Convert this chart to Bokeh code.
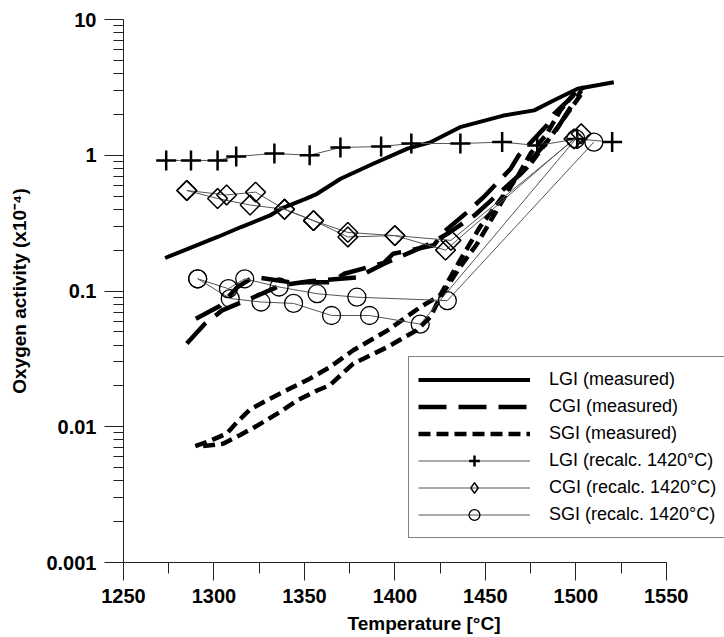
import numpy as np
from bokeh.plotting import figure
from bokeh.models import (Legend, LegendItem, SingleIntervalTicker, FixedTicker,
                          CustomJSTickFormatter, Range1d)
from bokeh.embed import file_html
from bokeh.resources import INLINE

# ---------------- data ----------------
# LGI measured (solid)
lgi_meas_T = [1273, 1302, 1315, 1331, 1337, 1351, 1357, 1370, 1388, 1407, 1420, 1436, 1460, 1477, 1488, 1501, 1521]
lgi_meas_v = [0.175, 0.25, 0.296, 0.36, 0.404, 0.479, 0.52, 0.671, 0.866, 1.12, 1.25, 1.61, 1.96, 2.14, 2.54, 3.09, 3.45]

# CGI measured (long dash) - two runs
cgi_meas1_T = [1290, 1303.5, 1313, 1322, 1342, 1365, 1372, 1394, 1399, 1421.5, 1427, 1440, 1449, 1464, 1468.5, 1484, 1488, 1502.6]
cgi_meas1_v = [0.0625, 0.078, 0.107, 0.127, 0.116, 0.116, 0.134, 0.161, 0.188, 0.217, 0.272, 0.381, 0.491, 0.796, 1.0, 1.66, 2.02, 3.09]
cgi_meas2_T = [1285, 1295, 1304.5, 1322, 1337, 1353, 1379, 1394, 1419.6, 1429, 1444, 1452, 1468, 1473, 1488, 1503]
cgi_meas2_v = [0.041, 0.0574, 0.072, 0.090, 0.110, 0.118, 0.126, 0.159, 0.223, 0.264, 0.36, 0.45, 0.70, 0.85, 1.45, 3.0]

# SGI measured (short dash) - two runs
sgi_meas1_T = [1289.7, 1298, 1307, 1313.6, 1320, 1331, 1342, 1353, 1364, 1377, 1396, 1414, 1425, 1436, 1447, 1458, 1467.6, 1475, 1484, 1491.5, 1499, 1504.4]
sgi_meas1_v = [0.0072, 0.0079, 0.0089, 0.0111, 0.0134, 0.0161, 0.0191, 0.0226, 0.0275, 0.0366, 0.0513, 0.076, 0.093, 0.168, 0.296, 0.465, 0.69, 1.03, 1.44, 2.14, 2.84, 3.17]
sgi_meas2_T = [1294, 1305, 1314.5, 1324, 1335, 1346, 1357, 1364, 1377, 1396, 1412, 1419.6, 1425, 1436, 1445.5, 1466, 1475, 1490, 1504.4]
sgi_meas2_v = [0.0072, 0.0075, 0.0087, 0.0102, 0.0125, 0.0156, 0.0185, 0.0202, 0.0292, 0.0387, 0.0513, 0.0643, 0.090, 0.150, 0.223, 0.652, 0.865, 1.61, 3.0]

# LGI recalculated at 1420 C (plus markers)
lgi_rec_T = [1273.6, 1287.3, 1302, 1312.3, 1333.4, 1352.9, 1369.9, 1392.4, 1409.1, 1436.2, 1459.3, 1478.7, 1500.8, 1520.1]
lgi_rec_v = [0.916, 0.916, 0.916, 0.98, 1.03, 1.0, 1.14, 1.16, 1.22, 1.22, 1.25, 1.18, 1.32, 1.25]

# CGI recalculated at 1420 C (diamonds) - two runs
cgi_rec1_T = [1285, 1307, 1323, 1339, 1355, 1374, 1400, 1431, 1503]
cgi_rec1_v = [0.55, 0.51, 0.535, 0.40, 0.33, 0.27, 0.256, 0.236, 1.44]
cgi_rec2_T = [1285, 1302, 1320, 1339, 1355, 1374, 1400, 1428, 1499]
cgi_rec2_v = [0.55, 0.48, 0.43, 0.40, 0.33, 0.25, 0.256, 0.20, 1.32]

# SGI recalculated at 1420 C (circles) - two runs
sgi_rec1_T = [1291, 1308, 1317, 1336, 1357, 1379, 1429, 1510]
sgi_rec1_v = [0.123, 0.104, 0.123, 0.107, 0.0955, 0.090, 0.085, 1.25]
sgi_rec2_T = [1291, 1309, 1326, 1344, 1365, 1386, 1414, 1500]
sgi_rec2_v = [0.123, 0.088, 0.083, 0.081, 0.066, 0.066, 0.057, 1.32]

x_axis_bounds = (1250, 1550)
y_ticks = [0.001, 0.01, 0.1, 1, 10]
y_tick_labels = ["0.001", "0.01", "0.1", "1", "10"]
y_minor_ticks = [m * 10.0 ** e for e in range(-3, 1) for m in range(2, 10)]

legend_labels = ["LGI (measured)", "CGI (measured)", "SGI (measured)",
                 "LGI (recalc. 1420\u00b0C)", "CGI (recalc. 1420\u00b0C)", "SGI (recalc. 1420\u00b0C)"]

FONT = "Liberation Sans"

# ---------------- figure ----------------
# the frame runs a little past 1550 so that the legend (which overhangs the axis end) is not clipped;
# the x axis itself is bounded to 1250-1550
p = figure(width=724, height=637, x_range=Range1d(1250, 1582.2), y_range=Range1d(0.001, 10),
           y_axis_type="log", output_backend="svg", toolbar_location=None,
           min_border_left=123, min_border_right=0, min_border_top=19, min_border_bottom=75)
p.outline_line_color = None
p.xgrid.visible = False
p.ygrid.visible = False
p.background_fill_color = "white"

# axes
p.xaxis.ticker = SingleIntervalTicker(interval=50, num_minor_ticks=2)
p.xaxis.bounds = x_axis_bounds
p.yaxis.ticker = FixedTicker(ticks=y_ticks, minor_ticks=y_minor_ticks)
p.yaxis.formatter = CustomJSTickFormatter(args=dict(vals=y_ticks, labs=y_tick_labels), code="""
const i = vals.findIndex(v => Math.abs(Math.log10(v) - Math.log10(tick)) < 1e-6);
return i >= 0 ? labs[i] : "";
""")
for ax in (p.xaxis[0], p.yaxis[0]):
    ax.axis_line_color = "#222222"
    ax.major_tick_line_color = "#222222"
    ax.minor_tick_line_color = "#222222"
    ax.major_tick_in = 0
    ax.minor_tick_in = 0
    ax.major_label_text_font = FONT
    ax.major_label_text_font_style = "bold"
    ax.major_label_text_font_size = "20px"
    ax.major_label_text_color = "black"
    ax.axis_label_text_font = FONT
    ax.axis_label_text_font_style = "bold"
    ax.axis_label_text_font_size = "19px"
    ax.axis_label_text_color = "black"
p.xaxis.major_tick_out = 18
p.xaxis.minor_tick_out = 11
p.yaxis.major_tick_out = 19
p.yaxis.minor_tick_out = 10
p.xaxis.major_label_standoff = 8
p.yaxis.major_label_standoff = 8
p.xaxis.axis_label_standoff = 7
p.yaxis.axis_label_standoff = 13
p.xaxis.axis_label = "Temperature [\u00b0C]"
p.yaxis.axis_label = "Oxygen activity (x10\u207b\u2074)"

# measured curves
l_lgi = p.line(lgi_meas_T, lgi_meas_v, line_width=4, line_color="black")
l_cgi = p.line(cgi_meas1_T, cgi_meas1_v, line_width=4.5, line_color="black", line_dash="28 12")
p.line(cgi_meas2_T, cgi_meas2_v, line_width=4.5, line_color="black", line_dash="28 12")
l_sgi = p.line(sgi_meas1_T, sgi_meas1_v, line_width=4.5, line_color="black", line_dash="12 6")
p.line(sgi_meas2_T, sgi_meas2_v, line_width=4.5, line_color="black", line_dash="12 6")

# recalculated series
THIN = "#555555"
rl_lgi = p.line(lgi_rec_T, lgi_rec_v, line_width=1, line_color=THIN)
rs_lgi = p.scatter(lgi_rec_T, lgi_rec_v, marker="cross", size=20, line_width=2.5, line_color="black")

rl_cgi = p.line(cgi_rec1_T, cgi_rec1_v, line_width=1, line_color=THIN)
p.line(cgi_rec2_T, cgi_rec2_v, line_width=1, line_color=THIN)
p.scatter(cgi_rec1_T, cgi_rec1_v, marker="square", angle=np.pi / 4, size=14,
          fill_color=None, line_color="black", line_width=1.5)
p.scatter(cgi_rec2_T, cgi_rec2_v, marker="square", angle=np.pi / 4, size=14,
          fill_color=None, line_color="black", line_width=1.5)
# hidden renderer that only supplies the legend key (legend keys are drawn unrotated)
rs_cgi = p.scatter(cgi_rec1_T, cgi_rec1_v, marker="diamond", fill_color=None,
                   line_color="black", line_width=1.5, visible=False)

rl_sgi = p.line(sgi_rec1_T, sgi_rec1_v, line_width=1, line_color=THIN)
p.line(sgi_rec2_T, sgi_rec2_v, line_width=1, line_color=THIN)
rs_sgi = p.scatter(sgi_rec1_T, sgi_rec1_v, marker="circle", size=18,
                   fill_color=None, line_color="black", line_width=1.3)
p.scatter(sgi_rec2_T, sgi_rec2_v, marker="circle", size=18,
          fill_color=None, line_color="black", line_width=1.3)

items = [
    LegendItem(label=legend_labels[0], renderers=[l_lgi]),
    LegendItem(label=legend_labels[1], renderers=[l_cgi]),
    LegendItem(label=legend_labels[2], renderers=[l_sgi]),
    LegendItem(label=legend_labels[3], renderers=[rl_lgi, rs_lgi]),
    LegendItem(label=legend_labels[4], renderers=[rl_cgi, rs_cgi]),
    LegendItem(label=legend_labels[5], renderers=[rl_sgi, rs_sgi]),
]
legend = Legend(items=items, location=(285, 24), padding=9, spacing=0,
                glyph_width=112, glyph_height=27, label_height=27, label_standoff=19,
                label_text_font=FONT, label_text_font_size="18px", label_text_color="black",
                border_line_color="black", border_line_width=1, background_fill_color="white",
                background_fill_alpha=1.0, margin=0)
p.add_layout(legend)

open("out.html", "w").write(file_html(p, INLINE))
